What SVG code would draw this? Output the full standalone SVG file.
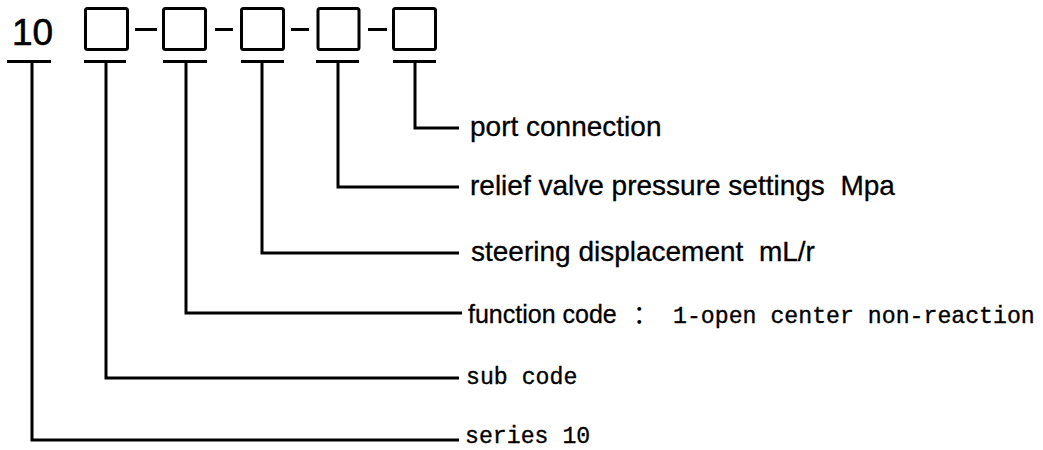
<svg xmlns="http://www.w3.org/2000/svg" width="1043" height="450" viewBox="0 0 1043 450">
<style>
.ln{fill:none;stroke:#000;stroke-width:3;stroke-linejoin:miter}
.box{fill:#fff;stroke:#000;stroke-width:3}
text{white-space:pre}
.sans{font-family:"Liberation Sans",Arial,sans-serif;font-size:28px;fill:#000;stroke:#000;stroke-width:0.3}
.mono{font-family:"Liberation Mono","Courier New",monospace;font-size:23.2px;fill:#000;stroke:#000;stroke-width:0.35}
.cjk{font-family:"Noto Sans CJK SC",sans-serif;font-size:25px;fill:#000}
</style>
<rect width="1043" height="450" fill="#fff"/>
<g id="code">
<text x="12" y="45" class="sans" style="font-size:37px;stroke-width:0.6">10</text>
<rect id="box1" class="box" x="85.5" y="8.5" width="42" height="41" rx="2"/>
<rect id="box2" class="box" x="163.5" y="8.5" width="42" height="41" rx="2"/>
<rect id="box3" class="box" x="241.5" y="8.5" width="42" height="41" rx="2"/>
<rect id="box4" class="box" x="318" y="8.5" width="41" height="41" rx="2"/>
<rect id="box5" class="box" x="393.5" y="8.5" width="42" height="41" rx="2"/>
<path class="ln" d="M135 29.5H157M215 29.5H233M291 29.5H309M368 29.5H387"/>
</g>
<g id="connectors">
<path class="ln" d="M7 61.5H51M32 61.5V440H459"/>
<path class="ln" d="M84 61.5H126M106 61.5V378H459"/>
<path class="ln" d="M163 61.5H207M186 61.5V313H462"/>
<path class="ln" d="M241 61.5H284M262 61.5V253H459"/>
<path class="ln" d="M316 61.5H359M338 61.5V187H459"/>
<path class="ln" d="M393 61.5H436M415 61.5V128H459"/>
</g>
<g id="label-port"><text x="470" y="136" class="sans">port connection</text></g>
<g id="label-relief"><text x="470" y="195" class="sans">relief valve pressure settings  Mpa</text></g>
<g id="label-steering"><text x="471" y="261" class="sans">steering displacement  mL/r</text></g>
<g id="label-function"><text x="468" y="323" class="sans" style="font-size:25px">function code</text><text x="633" y="323" class="cjk">：</text><text x="673" y="323" class="mono">1-open center non-reaction</text></g>
<g id="label-sub"><text x="466" y="384" class="mono">sub code</text></g>
<g id="label-series"><text x="465" y="443" class="mono">series 10</text></g>
</svg>
